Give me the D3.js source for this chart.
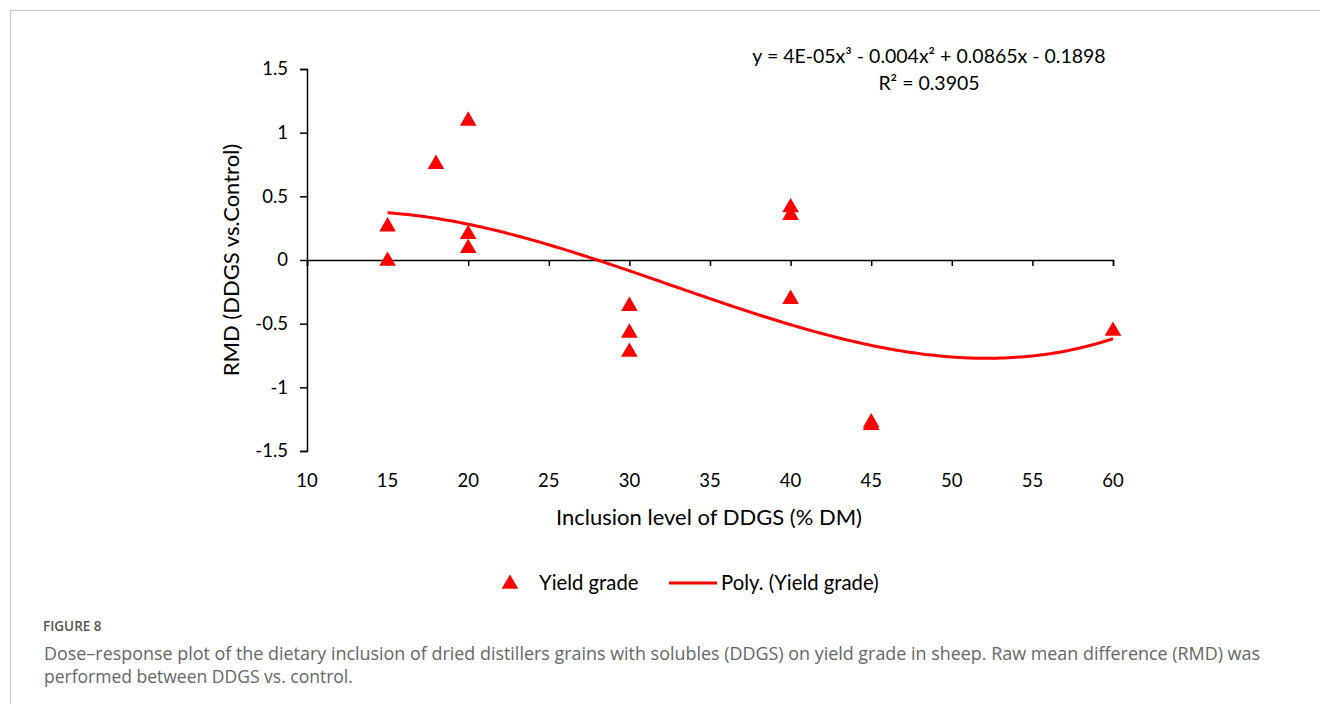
<!DOCTYPE html>
<html>
<head>
<meta charset="utf-8">
<script src="https://cdn.jsdelivr.net/npm/d3@7"></script>
<style>
  body { margin: 0; background: #fff; }
  svg { display: block; }
</style>
</head>
<body>
<svg id="chart" width="1320" height="704"></svg>
<script>
// data
var inclusion = [15, 15, 18, 20, 20, 20, 30, 30, 30, 40, 40, 40, 45, 45, 60];
var rmd = [0.27, 0.0, 0.76, 1.10, 0.21, 0.10, -0.355, -0.565, -0.715, 0.42, 0.36, -0.30, -1.27, -1.29, -0.55];
var xTicks = [10, 15, 20, 25, 30, 35, 40, 45, 50, 55, 60];
var yTicks = [1.5, 1, 0.5, 0, -0.5, -1, -1.5];
var equation = 'y = 4E-05x\u00b3 - 0.004x\u00b2 + 0.0865x - 0.1898';
var rSquared = 'R\u00b2 = 0.3905';
var caption = [
  'Dose\u2013response plot of the dietary inclusion of dried distillers grains with solubles (DDGS) on yield grade in sheep. Raw mean difference (RMD) was',
  'performed between DDGS vs. control.'
];

var font = 'Lato, Open Sans, sans-serif';
var capFont = 'Open Sans, Noto Sans, sans-serif';
var svg = d3.select('#chart');

// figure frame
svg.append('path')
    .attr('d', 'M 10.5 704 V 10.5 H 1320')
    .attr('fill', 'none')
    .attr('stroke', '#c8c8c8')
    .attr('stroke-width', 1);

var x = d3.scaleLinear().domain([10, 60]).range([307, 1113]);
var y = d3.scaleLinear().domain([-1.5, 1.5]).range([451, 69]);

// least squares cubic fit, like the spreadsheet trendline
var cubic_fit = function(xs, ys) {
    var n = 4;
    var A = [], b = [];
    for (var r = 0; r < n; r++) {
        A.push([0, 0, 0, 0]);
        b.push(0);
    }
    xs.forEach(function(xv, k) {
        for (var r = 0; r < n; r++) {
            for (var c = 0; c < n; c++) A[r][c] += Math.pow(xv, r + c);
            b[r] += ys[k] * Math.pow(xv, r);
        }
    });
    for (var i = 0; i < n; i++) {
        var p = i;
        for (var j = i + 1; j < n; j++) if (Math.abs(A[j][i]) > Math.abs(A[p][i])) p = j;
        var t = A[i]; A[i] = A[p]; A[p] = t;
        var tb = b[i]; b[i] = b[p]; b[p] = tb;
        for (var j = i + 1; j < n; j++) {
            var f = A[j][i] / A[i][i];
            for (var c = i; c < n; c++) A[j][c] -= f * A[i][c];
            b[j] -= f * b[i];
        }
    }
    var coef = [0, 0, 0, 0];
    for (var i = n - 1; i >= 0; i--) {
        var s = b[i];
        for (var c = i + 1; c < n; c++) s -= A[i][c] * coef[c];
        coef[i] = s / A[i][i];
    }
    return coef;
};

var coef = cubic_fit(inclusion, rmd);
var poly = function(v) {
    return coef[0] + coef[1] * v + coef[2] * v * v + coef[3] * v * v * v;
};

// y axis
var yAxis = svg.append('g')
    .attr('transform', 'translate(' + x(10) + ',0)')
    .call(d3.axisLeft(y).tickValues(yTicks).tickSize(7).tickPadding(12)
        .tickFormat(function(d) { return String(d); }));
yAxis.select('.domain').attr('stroke', '#000').attr('stroke-width', 1.5);
yAxis.selectAll('.tick line').attr('stroke', '#000').attr('stroke-width', 1.5);
yAxis.selectAll('.tick text')
    .attr('font-family', font).attr('font-size', 18.5).attr('fill', '#000');

// x axis drawn through zero, labels at the bottom
var xAxis = svg.append('g')
    .attr('transform', 'translate(0,' + y(0) + ')')
    .call(d3.axisBottom(x).tickValues(xTicks).tickSize(6).tickFormat(''));
xAxis.select('.domain').attr('stroke', '#000').attr('stroke-width', 1.5);
xAxis.selectAll('.tick line').attr('stroke', '#000').attr('stroke-width', 1.5);

svg.append('g').selectAll('text')
    .data(xTicks)
    .enter()
    .append('text')
    .attr('x', function(d) { return x(d); })
    .attr('y', 487)
    .attr('text-anchor', 'middle')
    .attr('font-family', font)
    .attr('font-size', 18.5)
    .text(function(d) { return d; });

// axis titles
svg.append('text')
    .attr('x', 709)
    .attr('y', 525)
    .attr('text-anchor', 'middle')
    .attr('font-family', font)
    .attr('font-size', 22)
    .text('Inclusion level of DDGS (% DM)');

svg.append('text')
    .attr('transform', 'translate(239,260) rotate(-90)')
    .attr('text-anchor', 'middle')
    .attr('font-family', font)
    .attr('font-size', 22)
    .text('RMD (DDGS vs.Control)');

// trendline
var curveX = d3.range(15, 60.001, 0.25);
svg.append('path')
    .datum(curveX)
    .attr('d', d3.line()
        .x(function(d) { return x(d); })
        .y(function(d) { return y(poly(d)); }))
    .attr('fill', 'none')
    .attr('stroke', '#ff0000')
    .attr('stroke-width', 3);

// points
var tri = d3.symbol().type(d3.symbolTriangle).size(120);
svg.append('g').selectAll('path')
    .data(inclusion)
    .enter()
    .append('path')
    .attr('d', tri)
    .attr('transform', function(d, i) {
        return 'translate(' + x(d) + ',' + (y(rmd[i]) + 1) + ')';
    })
    .attr('fill', '#ff0000');

// equation
svg.append('text')
    .attr('x', 929).attr('y', 63)
    .attr('text-anchor', 'middle')
    .attr('font-family', font).attr('font-size', 19.5)
    .text(equation);
svg.append('text')
    .attr('x', 929).attr('y', 90)
    .attr('text-anchor', 'middle')
    .attr('font-family', font).attr('font-size', 19.5)
    .text(rSquared);

// legend
svg.append('path')
    .attr('d', tri)
    .attr('transform', 'translate(510,584)')
    .attr('fill', '#ff0000');
svg.append('text')
    .attr('x', 539).attr('y', 590)
    .attr('font-family', font).attr('font-size', 20.3)
    .text('Yield grade');
svg.append('line')
    .attr('x1', 669).attr('x2', 717)
    .attr('y1', 583).attr('y2', 583)
    .attr('stroke', '#ff0000').attr('stroke-width', 3);
svg.append('text')
    .attr('x', 721).attr('y', 590)
    .attr('font-family', font).attr('font-size', 20.3)
    .text('Poly. (Yield grade)');

// caption
svg.append('text')
    .attr('x', 43).attr('y', 631)
    .attr('font-family', capFont).attr('font-size', 13.5)
    .attr('font-weight', 600)
    .attr('fill', '#555')
    .text('FIGURE 8');
svg.append('g').selectAll('text')
    .data(caption)
    .enter()
    .append('text')
    .attr('x', 44)
    .attr('y', function(d, i) { return 660 + i * 23; })
    .attr('font-family', capFont)
    .attr('font-size', 17.5)
    .attr('fill', '#666')
    .attr('textLength', function(d, i) { return i === 0 ? 1216 : null; })
    .attr('lengthAdjust', 'spacingAndGlyphs')
    .text(function(d) { return d; });
</script>
</body>
</html>
